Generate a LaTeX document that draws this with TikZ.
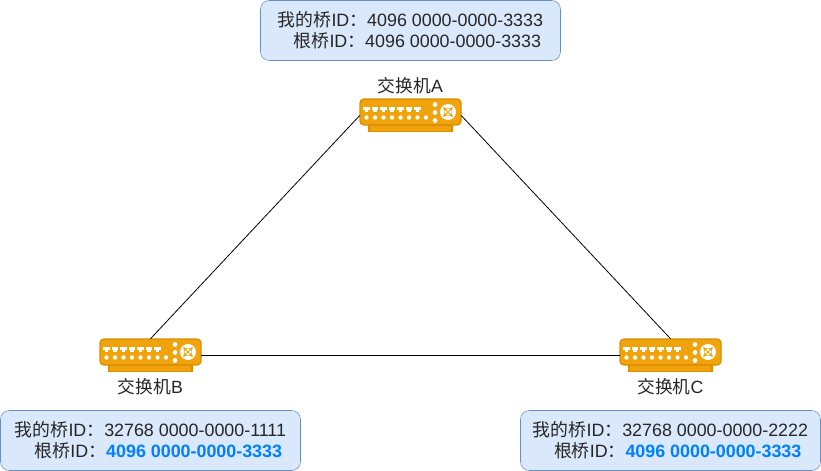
\documentclass[tikz,border=0pt]{standalone}
\usepackage{fontspec}
\setmainfont{Liberation Sans}
\newfontfamily\cjk{Noto Sans CJK SC}
\definecolor{boxfill}{HTML}{DAE8FC}
\definecolor{boxline}{HTML}{6C8EBF}
\definecolor{swfill}{HTML}{F0A30A}
\definecolor{swline}{HTML}{D98E04}
\definecolor{rootblue}{HTML}{007FFF}
\tikzset{
    infobox/.style={draw=boxline,fill=boxfill,rounded corners=6.5pt,minimum width=225pt,minimum height=45pt,inner sep=0pt,align=right,font=\fontsize{13.4}{16}\selectfont,text=black!85},
    swframe/.style={minimum width=75.75pt,minimum height=24.75pt,inner sep=0pt},
    swbody/.style={draw=swline,fill=swfill,line width=1pt,rounded corners=3pt},
    swbase/.style={draw=swline,fill=swfill,line width=0.8pt},
    swlabel/.style={font=\fontsize{13.3}{15}\selectfont,text=black!85},
    link/.style={draw=black,line width=0.6pt}
}
\newcommand{\mybridge}{{\cjk 我的桥}ID{\cjk ：}}
\newcommand{\rootbridge}{{\cjk 根桥}ID{\cjk ：}}
\newcommand{\rootid}{\textcolor{rootblue}{\bfseries 4096 0000-0000-3333}}
% switch icon, #1 = name, (#2,#3) = centre of the whole icon
\newcommand{\switchicon}[3]{
    \node[swframe] (#1) at (#2,#3) {};
    \begin{scope}[shift={(#2,#3-3.5)}]
        \draw[swbase] (-41.5,13) rectangle (41.5,19.5);
        \draw[swbody] (-50.5,-13) rectangle (50.5,13);
        \foreach \x in {-44,-35.5,...,7.5} {
            \fill[white] (\x-3.2,-5) rectangle (\x+3.2,-2.4);
            \fill[white] (\x-1.6,-2.4) rectangle (\x+1.6,-0.5);
        }
        \foreach \x in {-44,-35.5,...,17} \fill[white] (\x,5.5) circle (2.2);
        \foreach \y in {-7.5,0.5,8.5} \fill[white] (24.5,\y) circle (2.4);
        \fill[white] (37.5,0) circle (8);
        \foreach \a in {45,135,225,315}
            \draw[swfill,line width=0.6pt,->,>=stealth] (37.5,0) ++(\a:0.5) -- ++(\a:6.5);
    \end{scope}
}
\begin{document}
\begin{tikzpicture}[x=0.75pt,y=-0.75pt]
    \useasboundingbox (0,0) rectangle (821,471);
    \switchicon{swA}{410.5}{115.5}
    \switchicon{swB}{150.5}{355.5}
    \switchicon{swC}{670.5}{355.5}
    \draw[link] (swA.west) -- (swB.north);
    \draw[link] (swA.east) -- (swC.north);
    \draw[link] (swB.east) -- (swC.west);
    \node[swlabel] (labelA) at (410.5,86) {{\cjk 交换机}A};
    \node[swlabel] (labelB) at (150.5,387) {{\cjk 交换机}B};
    \node[swlabel] (labelC) at (670.5,387) {{\cjk 交换机}C};
    \node[infobox] (infoA) at (410.5,30.5) {\mybridge 4096 0000-0000-3333\\\rootbridge 4096 0000-0000-3333\hspace*{1.5pt}};
    \node[infobox] (infoB) at (150.5,440.5) {\mybridge 32768 0000-0000-1111\\\rootbridge \rootid\hspace*{3pt}};
    \node[infobox] (infoC) at (670.5,440.5) {\mybridge 32768 0000-0000-2222\\\rootbridge \rootid\hspace*{5pt}};
\end{tikzpicture}
\end{document}
